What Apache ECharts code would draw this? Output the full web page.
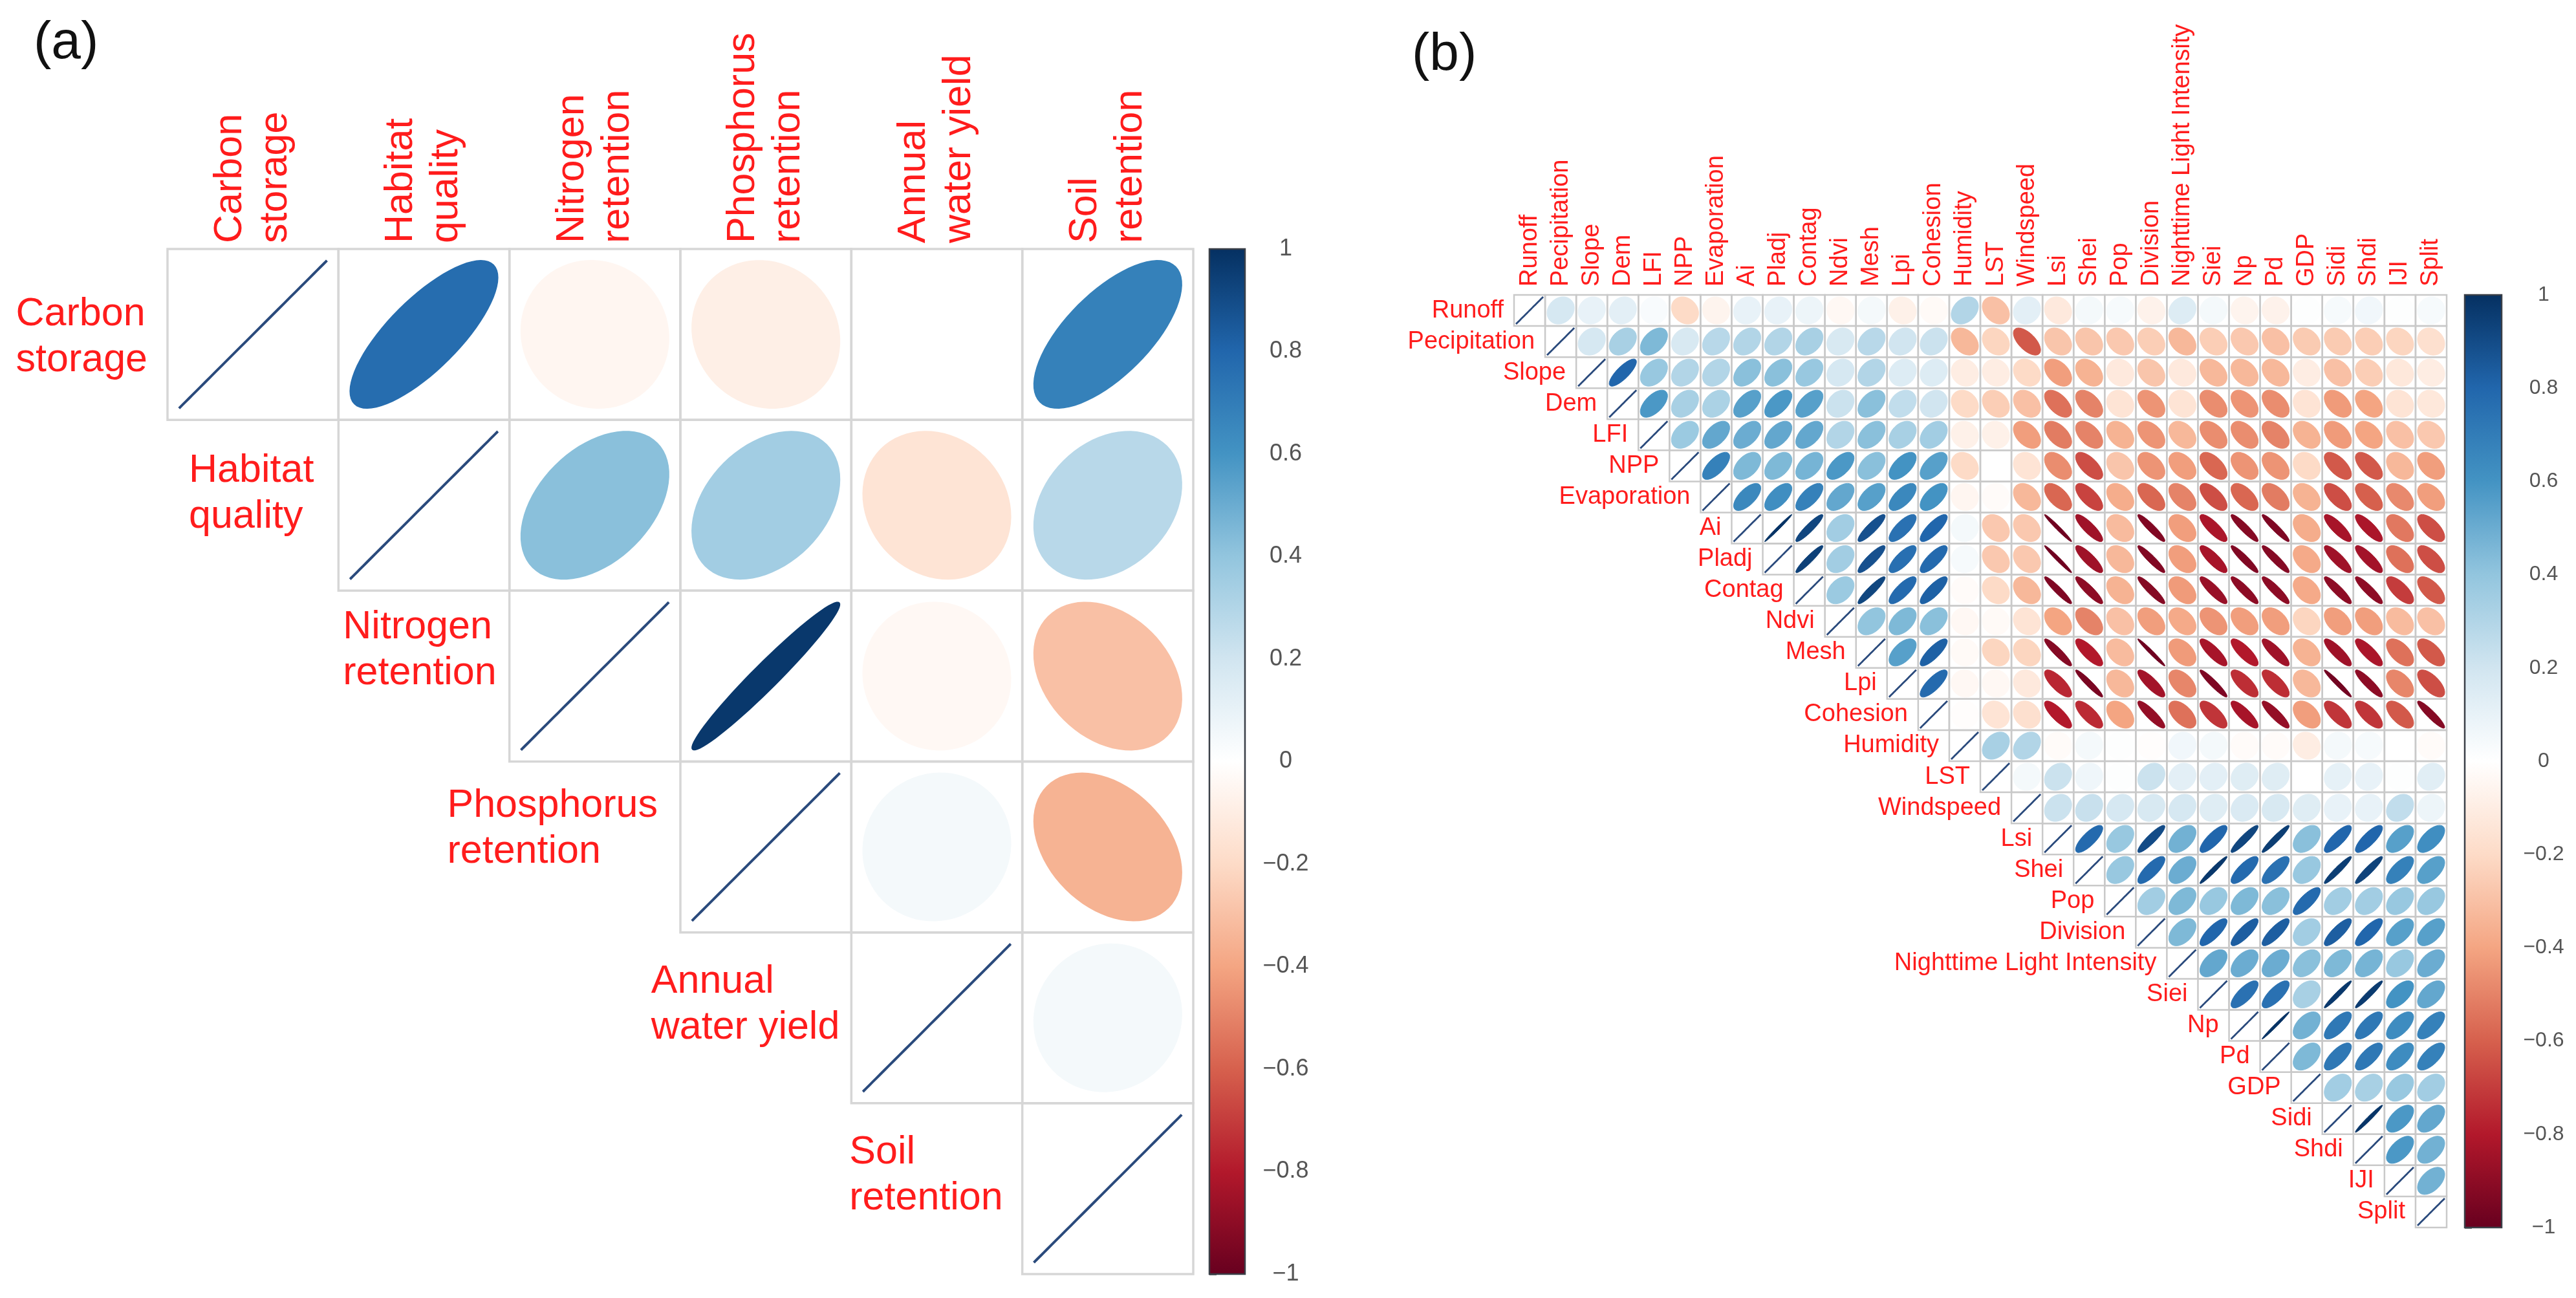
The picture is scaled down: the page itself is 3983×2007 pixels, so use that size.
<!DOCTYPE html>
<html><head><meta charset="utf-8">
<style>html,body{margin:0;padding:0;background:#fff}#c{width:3983px;height:2007px}</style>
<script src="https://cdn.jsdelivr.net/npm/echarts@6/dist/echarts.min.js"></script>
</head><body><div id="c"></div>
<script>
// ---------- Panel (a)
const namesA = ['Carbon\nstorage','Habitat\nquality','Nitrogen\nretention','Phosphorus\nretention','Annual\nwater yield','Soil\nretention'];
const carbonRow = [1, .77, -.05, -.09, 0, .68];
const habitatRow = [1, .42, .35, -.15, .28];
const nitrogenRow = [1, .97, -.04, -.3];
const phosphorusRow = [1, .05, -.35];
const waterRow = [1, .05];
const soilRow = [1];
const rowsA = [carbonRow, habitatRow, nitrogenRow, phosphorusRow, waterRow, soilRow];
// ---------- Panel (b)
const namesB = ['Runoff','Pecipitation','Slope','Dem','LFI','NPP','Evaporation','Ai','Pladj','Contag','Ndvi','Mesh','Lpi','Cohesion','Humidity','LST','Windspeed','Lsi','Shei','Pop','Division','Nighttime Light Intensity','Siei','Np','Pd','GDP','Sidi','Shdi','IJI','Split'];
const runoff = [1,.18,.1,.12,.03,-.2,-.06,.1,.1,.08,-.04,.05,-.08,-.03,.3,-.3,.12,-.12,.05,.04,-.07,.15,.05,-.06,-.07,.01,.04,.06,.01,.04];
const pecipitation = [1,.18,.33,.45,.17,.28,.3,.3,.33,.17,.28,.2,.22,-.33,-.22,-.62,-.28,-.28,-.27,-.25,-.33,-.25,-.27,-.3,-.26,-.26,-.25,-.22,-.17];
const slope = [1,.8,.38,.3,.3,.42,.42,.38,.18,.3,.15,.15,-.1,-.1,-.2,-.42,-.35,-.12,-.28,-.12,-.33,-.33,-.33,-.1,-.3,-.25,-.13,-.1];
const dem = [1,.58,.33,.32,.55,.58,.55,.22,.42,.25,.2,-.2,-.25,-.3,-.55,-.5,-.15,-.45,-.15,-.47,-.45,-.47,-.15,-.43,-.4,-.15,-.13];
const lfi = [1,.37,.52,.5,.52,.52,.3,.42,.33,.35,-.08,-.08,-.42,-.52,-.5,-.35,-.45,-.33,-.47,-.47,-.5,-.35,-.43,-.4,-.3,-.27];
const npp = [1,.68,.45,.45,.47,.58,.42,.6,.55,-.2,0,-.15,-.47,-.65,-.28,-.45,-.42,-.58,-.45,-.45,-.2,-.62,-.62,-.33,-.42];
const evaporation = [1,.65,.62,.68,.52,.55,.65,.6,-.05,-.02,-.33,-.58,-.68,-.37,-.58,-.5,-.65,-.58,-.52,-.35,-.65,-.6,-.48,-.42];
const ai = [1,.99,.92,.35,.88,.75,.8,.05,-.27,-.27,-.98,-.85,-.32,-.93,-.42,-.82,-.92,-.94,-.37,-.83,-.82,-.53,-.65];
const pladj = [1,.94,.35,.88,.76,.78,.04,-.27,-.27,-.98,-.85,-.33,-.93,-.42,-.83,-.93,-.92,-.38,-.85,-.84,-.55,-.65];
const contag = [1,.37,.92,.78,.82,-.02,-.2,-.33,-.94,-.9,-.35,-.92,-.43,-.87,-.9,-.9,-.38,-.9,-.9,-.7,-.62];
const ndvi = [1,.4,.45,.42,-.04,-.03,-.15,-.4,-.5,-.3,-.42,-.38,-.45,-.42,-.42,-.22,-.42,-.42,-.32,-.3];
const mesh = [1,.55,.82,-.03,-.22,-.22,-.92,-.8,-.32,-.98,-.43,-.83,-.8,-.85,-.35,-.85,-.82,-.55,-.62];
const lpi = [1,.78,-.04,-.04,-.12,-.76,-.95,-.33,-.84,-.49,-.94,-.74,-.74,-.33,-.97,-.9,-.49,-.65];
const cohesion = [1,-.01,-.15,-.17,-.8,-.75,-.4,-.88,-.55,-.72,-.83,-.88,-.42,-.72,-.72,-.62,-.92];
const humidity = [1,.33,.3,-.02,.05,.01,-.01,.06,.05,-.02,-.02,-.1,.05,.04,0,-.02];
const lst = [1,.05,.22,.07,.01,.22,.12,.12,.14,.14,0,.11,.1,.01,.13];
const windspeed = [1,.22,.23,.18,.17,.18,.14,.16,.17,.14,.1,.1,.25,.08];
const lsi = [1,.78,.38,.9,.48,.8,.92,.95,.42,.8,.8,.55,.62];
const shei = [1,.38,.78,.5,.97,.78,.75,.38,.95,.93,.68,.55];
const pop = [1,.35,.45,.38,.45,.42,.78,.35,.35,.38,.38];
const division = [1,.45,.8,.83,.83,.35,.83,.8,.55,.55];
const nighttime = [1,.52,.5,.5,.42,.45,.47,.38,.5];
const siei = [1,.75,.75,.33,.97,.96,.6,.52];
const np = [1,.99,.48,.72,.72,.63,.68];
const pd = [1,.45,.72,.72,.63,.68];
const gdp = [1,.35,.33,.38,.35];
const sidi = [1,.98,.58,.52];
const shdi = [1,.58,.48];
const iji = [1,.48];
const split = [1];
const rowsB = [runoff,pecipitation,slope,dem,lfi,npp,evaporation,ai,pladj,contag,ndvi,mesh,lpi,cohesion,humidity,lst,windspeed,lsi,shei,pop,division,nighttime,siei,np,pd,gdp,sidi,shdi,iji,split];
// ---------- Colour scale (corrplot RdBu)
const rampColors = ['#67001F','#B2182B','#D6604D','#F4A582','#FDDBC7','#FFFFFF','#D1E5F0','#92C5DE','#4393C3','#2166AC','#053061'];
const barTicks = 0.2;

const FONT = '"Liberation Sans", Arial, sans-serif';
const RED = '#ff1c1c';
function hex(c){return [1,3,5].map(i=>parseInt(c.substr(i,2),16));}
function ramp(v){
  const t=(v+1)/2*(rampColors.length-1), i=Math.min(Math.floor(t),rampColors.length-2), f=t-i;
  const a=hex(rampColors[i]), b=hex(rampColors[i+1]);
  return 'rgb('+a.map((x,j)=>Math.round(x+(b[j]-x)*f)).join(',')+')';
}
function triangle(rows){const d=[];rows.forEach((r,i)=>r.forEach((v,k)=>d.push([i+k,i,v])));return d;}
const measure=document.createElement('canvas').getContext('2d');
function blockWidth(t,size){measure.font=size+'px "Liberation Sans"';return Math.max(...t.split('\n').map(s=>measure.measureText(s).width));}

function cellSeries(idx,data,lw,col){return {type:'custom',xAxisIndex:idx,yAxisIndex:idx,coordinateSystem:'cartesian2d',silent:true,clip:false,data,encode:{x:0,y:1},
  renderItem(p,api){const c=api.coord([api.value(0),api.value(1)]),s=api.size([1,1]);
    return {type:'rect',shape:{x:c[0]-s[0]/2,y:c[1]-s[1]/2,width:s[0],height:s[1]},style:{fill:'none',stroke:col,lineWidth:lw}};}};}
function ellipseSeries(idx,data,scale,lw,diagW){return {type:'custom',xAxisIndex:idx,yAxisIndex:idx,coordinateSystem:'cartesian2d',silent:true,clip:false,data,encode:{x:0,y:1},
  renderItem(p,api){const c=api.coord([api.value(0),api.value(1)]),s=api.size([1,1]),r=api.value(2),d=Math.acos(r)/2,pts=[];
    for(let i=0;i<72;i++){const k=i/72*2*Math.PI;pts.push([c[0]+Math.cos(k+d)/2*s[0]*scale,c[1]-Math.cos(k-d)/2*s[1]*scale]);}
    const diag=r>=.999, col=diag?'#2a4a7c':ramp(r);
    return {type:'polygon',shape:{points:pts},style:{fill:col,stroke:col,lineWidth:diag?diagW:lw}};}};}
function labelSeries(idx,names,size,lineH,gaps,dy,leftBlock){return {type:'custom',xAxisIndex:idx,yAxisIndex:idx,coordinateSystem:'cartesian2d',silent:true,clip:false,data:names.map((n,i)=>[i,i]),encode:{x:0,y:1},
  renderItem(p,api){const i=api.value(0),c=api.coord([i,i]),s=api.size([1,1]),t=names[i];
    const right=c[0]-s[0]/2-gaps[i%gaps.length];
    return {type:'text',x:leftBlock?right-blockWidth(t,size):right,y:c[1]+dy[i%dy.length],style:{text:t,fontSize:size,fontFamily:FONT,fill:RED,align:leftBlock?'left':'right',verticalAlign:'middle',lineHeight:lineH}};}};}
function barSeries(idx){return {type:'custom',xAxisIndex:idx,yAxisIndex:idx,coordinateSystem:'cartesian2d',silent:true,clip:false,data:[[0,1]],encode:{x:0,y:1},
  renderItem(p,api){const a=api.coord([0,1]),b=api.coord([1,-1]);
    const stops=rampColors.map((c,i)=>({offset:1-i/(rampColors.length-1),color:c}));stops.reverse();
    return {type:'rect',shape:{x:a[0],y:a[1],width:b[0]-a[0],height:b[1]-a[1]},style:{stroke:'#3a3f47',lineWidth:2.5,fill:{type:'linear',x:0,y:0,x2:0,y2:1,colorStops:stops}}};}};}
function catX(i,names,size,margin,lh){return {gridIndex:i,type:'category',position:'top',data:names,axisLine:{show:false},axisTick:{show:false},splitLine:{show:false},
  axisLabel:{show:true,interval:0,rotate:-90,margin,fontSize:size,lineHeight:lh,fontFamily:FONT,color:RED,hideOverlap:false}};}
function catY(i,names){return {gridIndex:i,type:'category',inverse:true,data:names,axisLine:{show:false},axisTick:{show:false},axisLabel:{show:false},splitLine:{show:false}};}
function barX(i){return {gridIndex:i,type:'value',min:0,max:1,show:false};}
function barY(i,size,margin){return {gridIndex:i,type:'value',min:-1,max:1,interval:barTicks,position:'right',splitLine:{show:false},
  axisLine:{show:false},axisTick:{show:true,length:11,lineStyle:{color:'#444',width:2.5}},
  axisLabel:{fontSize:size,fontFamily:FONT,color:'#555555',align:'center',margin,showMinLabel:true,showMaxLabel:true,formatter:v=>String(+v.toFixed(1)).replace('-','\u2212')}};}

const chart=echarts.init(document.getElementById('c'),null,{renderer:'canvas',width:3983,height:2007});
const dataA=triangle(rowsA), dataB=triangle(rowsB);
chart.setOption({animation:false,backgroundColor:'#fff',
  grid:[
    {left:259,top:385,width:1586,height:1585},
    {left:1870,top:385,width:55,height:1585},
    {left:2341,top:456,width:1442,height:1442},
    {left:3811,top:456,width:57,height:1442}
  ],
  xAxis:[catX(0,namesA,61,9,70),barX(1),catX(2,namesB,38,13,38),barX(3)],
  yAxis:[catY(0,namesA),barY(1,36,63),catY(2,namesB),barY(3,32,65)],
  series:[
    cellSeries(0,dataA,3.5,'#d6d6d6'),ellipseSeries(0,dataA,.865,1.5,4),labelSeries(0,namesA,61,71,[31,38,20,35,18,30],[5,-18,-40,-28,-20,-20],true),barSeries(1),
    cellSeries(2,dataB,2.5,'#c9c9c9'),ellipseSeries(2,dataB,.875,1,2.8),labelSeries(2,namesB,38,38,[16],[0],false),barSeries(3)
  ],
  graphic:[
    {type:'text',left:52,top:26,style:{text:'(a)',fontSize:82,fontFamily:FONT,fill:'#111'}},
    {type:'text',left:2183,top:44,style:{text:'(b)',fontSize:82,fontFamily:FONT,fill:'#111'}}
  ]
});
</script></body></html>
